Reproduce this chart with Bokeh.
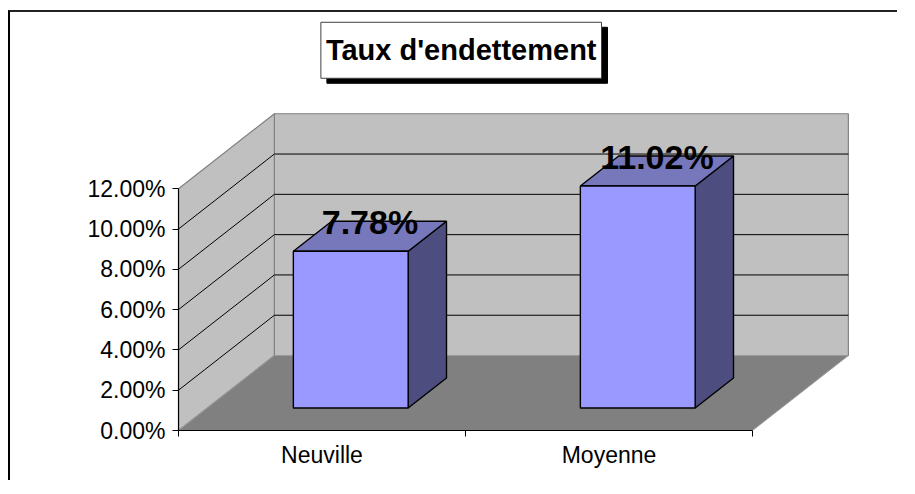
from bokeh.plotting import figure
from bokeh.layouts import column, row
from bokeh.models import Range1d, FixedTicker, PrintfTickFormatter, Label, Spacer
from bokeh.embed import file_html
from bokeh.resources import INLINE
from bokeh.core.properties import value

# ---- data ----
categories = ["Neuville", "Moyenne"]
rates = [7.78, 11.02]
y_ticks = [0, 2, 4, 6, 8, 10, 12]
title_text = "Taux d'endettement"

# ---- 3D projection parameters (layout) ----
DEPTH_DX = 0.334   # x shift of the back plane (category units)
DEPTH_DY = 3.72    # y shift of the back plane (% units)
BAR_W = 0.4
Z0, Z1 = 0.3, 0.7
Y_MAX = y_ticks[-1]
n = len(categories)


def proj(x, z, v):
    return x + z * DEPTH_DX, v + z * DEPTH_DY


def poly(pts):
    xs, ys = zip(*[proj(*pt) for pt in pts])
    return list(xs), list(ys)


W, H = 889, 470
LEFT, BOTTOM = 168, 52
PX_X, PX_Y = 287.0, 20.15

p = figure(width=W, height=H, output_backend="svg", toolbar_location=None,
           x_range=Range1d(0, (W - LEFT) / PX_X),
           y_range=Range1d(0, (H - BOTTOM) / PX_Y),
           min_border_left=LEFT, min_border_bottom=BOTTOM,
           min_border_top=0, min_border_right=0,
           background_fill_color="white", border_fill_color="white",
           outline_line_color=None)
p.grid.visible = False
p.styles = {"border-left": "2px solid black", "border-top": "2px solid #222"}

# ---- walls and floor ----
xs, ys = poly([(0, 1, 0), (n, 1, 0), (n, 1, Y_MAX), (0, 1, Y_MAX)])
p.patch(xs, ys, fill_color="#C0C0C0", line_color="#808080", line_width=1.2)
xs, ys = poly([(0, 0, 0), (0, 1, 0), (0, 1, Y_MAX), (0, 0, Y_MAX)])
p.patch(xs, ys, fill_color="#C0C0C0", line_color="#808080", line_width=1.2)
xs, ys = poly([(0, 0, 0), (n, 0, 0), (n, 1, 0), (0, 1, 0)])
p.patch(xs, ys, fill_color="#808080", line_color="#9a9a9a", line_width=1)

# gridlines on back wall and side wall
gx0, gy0, gx1, gy1 = [], [], [], []
for v in y_ticks[1:-1]:
    a, b = proj(0, 1, v), proj(n, 1, v)
    gx0.append(a[0]); gy0.append(a[1]); gx1.append(b[0]); gy1.append(b[1])
    a, b = proj(0, 0, v), proj(0, 1, v)
    gx0.append(a[0]); gy0.append(a[1]); gx1.append(b[0]); gy1.append(b[1])
p.segment(gx0, gy0, gx1, gy1, line_color="black", line_width=1)

# ---- bars ----
centers = [i + 0.5 for i in range(n)]
fl, fr, fb, ft = [], [], [], []
top_xs, top_ys, side_xs, side_ys = [], [], [], []
for c, v in zip(centers, rates):
    x0, x1 = c - BAR_W / 2, c + BAR_W / 2
    fl.append(proj(x0, Z0, 0)[0]); fr.append(proj(x1, Z0, 0)[0])
    fb.append(proj(x0, Z0, 0)[1]); ft.append(proj(x0, Z0, v)[1])
    tx, ty = poly([(x0, Z0, v), (x1, Z0, v), (x1, Z1, v), (x0, Z1, v)])
    top_xs.append(tx); top_ys.append(ty)
    sx, sy = poly([(x1, Z0, 0), (x1, Z1, 0), (x1, Z1, v), (x1, Z0, v)])
    side_xs.append(sx); side_ys.append(sy)

p.patches(side_xs, side_ys, fill_color="#4D4D80", line_color="black", line_width=1.4)
p.patches(top_xs, top_ys, fill_color="#7777BB", line_color="black", line_width=1.4)
p.quad(left=fl, right=fr, bottom=fb, top=ft, fill_color="#9999FF",
       line_color="black", line_width=1.4)

# data labels, centred above the middle of each bar's top face
lx = [proj(c, 0.5, v)[0] for c, v in zip(centers, rates)]
ly = [proj(c, 0.5, v)[1] for c, v in zip(centers, rates)]
p.text(x=lx, y=ly, text=[f"{v:.2f}%" for v in rates],
       text_font=value("Liberation Sans"), text_font_style="bold",
       text_font_size="34px", text_align="center", text_baseline="middle",
       y_offset=-14, text_color="black")

# ---- axes ----
xa = p.xaxis[0]
xa.ticker = FixedTicker(ticks=centers, minor_ticks=list(range(n + 1)))
xa.major_label_overrides = {c: name for c, name in zip(centers, categories)}
xa.bounds = (0, n)
xa.major_tick_out = 0
xa.major_tick_in = 0
xa.minor_tick_out = 6
xa.minor_tick_in = 0
xa.minor_tick_line_color = "black"
xa.axis_line_color = "black"
xa.axis_line_width = 1.2
xa.major_label_standoff = 5
xa.major_label_text_font = "Liberation Sans"
xa.major_label_text_font_size = "23px"
xa.major_label_text_color = "black"

ya = p.yaxis[0]
ya.ticker = FixedTicker(ticks=y_ticks, minor_ticks=[])
ya.formatter = PrintfTickFormatter(format="%.2f%%")
ya.bounds = (0, Y_MAX)
ya.major_tick_out = 6
ya.major_tick_in = 0
ya.minor_tick_out = 0
ya.minor_tick_in = 0
ya.major_tick_line_color = "black"
ya.axis_line_color = "black"
ya.axis_line_width = 1.2
ya.major_label_standoff = 7
ya.major_label_text_font = "Liberation Sans"
ya.major_label_text_font_size = "23px"
ya.major_label_text_color = "black"

# ---- title box with shadow ----
title_x = n / 2 - 0.015
title_y = 18.87
common = dict(x=title_x, y=title_y, text=title_text, text_align="center",
              text_baseline="middle", text_font="Liberation Sans",
              text_font_style="bold", text_font_size="29px", padding=(5, 12))
shadow = Label(**common, text_color="black", background_fill_color="black",
               border_line_color="black", x_offset=6, y_offset=-5)
title = Label(**common, text_color="black", background_fill_color="white",
              border_line_color="#404040", border_line_width=1)
p.add_layout(shadow)
p.add_layout(title)

layout = column(Spacer(height=10), row(Spacer(width=8), p))
open("out.html", "w").write(file_html(layout, INLINE))
